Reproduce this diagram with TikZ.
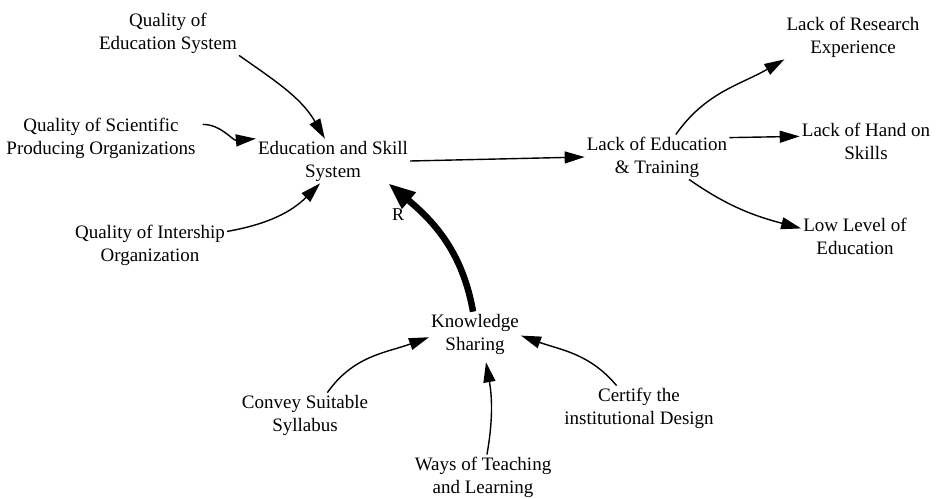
\documentclass[tikz,border=0pt]{standalone}
\usepackage{fontspec}
\setmainfont{Liberation Serif}
\usetikzlibrary{arrows.meta}
\begin{document}
\begin{tikzpicture}[x=1pt,y=1pt,
  lbl/.style={font=\fontsize{19}{23}\selectfont, align=center, inner sep=2pt},
  link/.style={line width=1.4pt, -{Triangle[length=20pt,width=12pt]}},
  loopedge/.style={line width=6.5pt, -{Triangle[length=27pt,width=20pt]}}]
\useasboundingbox (0,0) rectangle (939,-498);
\node[lbl] (qes) at (168,-33) {Quality of\\Education System};
\node[lbl] (qspo) at (101,-138) {Quality of Scientific\\Producing Organizations};
\node[lbl] (qio) at (150,-245) {Quality of Intership\\Organization};
\node[lbl] (ess) at (333,-161) {Education and Skill\\System};
\node[lbl] (let) at (657,-157) {Lack of Education\\\& Training};
\node[lbl] (lre) at (853,-37) {Lack of Research\\Experience};
\node[lbl] (lhs) at (866,-141) {Lack of Hand on\\Skills};
\node[lbl] (lle) at (855,-236) {Low Level of\\Education};
\node[lbl] (ks) at (475,-334) {Knowledge\\Sharing};
\node[lbl] (css) at (305,-415) {Convey Suitable\\Syllabus};
\node[lbl] (cid) at (639,-408) {Certify the\\institutional Design};
\node[lbl] (wtl) at (483,-477) {Ways of Teaching\\and Learning};
\node[font=\fontsize{18}{20}\selectfont, inner sep=0pt] (r) at (398,-215) {R};

\draw[link] (qes.south east) to[out=-35,in=120] (ess.110);
\draw[link, shorten <=5pt] (qspo.8) to[out=0,in=185] (ess.north west);
\draw[link] (qio.10) to[out=10,in=-135] (ess.-120);
\draw[link] (ess.east) -- (let.west);
\draw[link] (let.50) to[out=55,in=210] (lre.south west);
\draw[link] (let.15) -- (lhs.176);
\draw[link] (let.-35) to[out=-35,in=165] (lle.172);
\draw[loopedge] (ks.95) to[out=100,in=-40] (ess.-22);
\draw[link] (css.45) to[out=55,in=200] (ks.184);
\draw[link, shorten >=6pt] (wtl.80) to[out=80,in=-80] (ks.-66);
\draw[link] (cid.135) to[out=130,in=-20] (ks.-2);
\end{tikzpicture}
\end{document}
